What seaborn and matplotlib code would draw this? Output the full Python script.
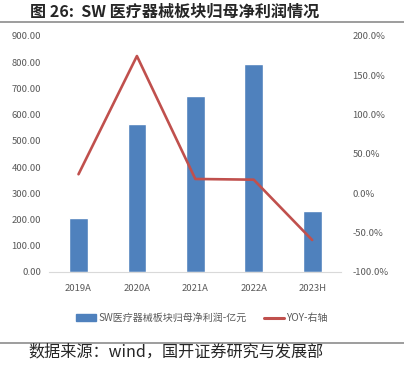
import pandas as pd
import matplotlib.pyplot as plt
import seaborn as sns
from matplotlib.lines import Line2D
from matplotlib.patches import Patch
from matplotlib.ticker import FuncFormatter

years = ['2019A', '2020A', '2021A', '2022A', '2023H']
profit = [207, 564, 671, 792, 234]
yoy = [0.242, 1.745, 0.182, 0.173, -0.594]

bar_label = 'SW医疗器械板块归母净利润-亿元'
line_label = 'YOY-右轴'
title = '图 26:  SW 医疗器械板块归母净利润情况'
source = '数据来源：wind，国开证券研究与发展部'

df = pd.DataFrame({'year': years, 'profit': profit, 'yoy': yoy})

sns.set_theme(style='white')
plt.rcParams['font.family'] = ['Noto Sans CJK SC', 'DejaVu Sans']

blue = '#4F81BD'
red = '#C0504D'
tick_gray = '#595959'

fig = plt.figure(figsize=(4.04, 3.67), dpi=100)
ax = fig.add_axes([0.122, 0.259, 0.723, 0.643])

sns.barplot(data=df, x='year', y='profit', color=blue, saturation=1, width=0.32, ax=ax)
ax.set_ylim(0, 900)
ax.set_yticks(range(0, 901, 100))
ax.yaxis.set_major_formatter(FuncFormatter(lambda v, p: f'{v:.2f}'))
ax.set_xlim(-0.5, 4.5)
ax.set_xlabel('')
ax.set_ylabel('')

ax2 = ax.twinx()
sns.lineplot(data=df, x='year', y='yoy', color=red, linewidth=1.9, sort=False, ax=ax2)
ax2.set_ylim(-1, 2)
ax2.set_yticks([-1, -0.5, 0, 0.5, 1, 1.5, 2])
ax2.yaxis.set_major_formatter(FuncFormatter(lambda v, p: f'{v * 100:.1f}%'))
ax2.set_xlim(-0.5, 4.5)
ax2.set_ylabel('')

for a in (ax, ax2):
    for s in a.spines.values():
        s.set_visible(False)
    a.tick_params(length=0, labelsize=6.8, labelcolor=tick_gray)
ax.spines['bottom'].set_visible(True)
ax.spines['bottom'].set_color('#D9D9D9')
ax.spines['bottom'].set_linewidth(0.8)
ax.tick_params(axis='y', pad=6)
ax.tick_params(axis='x', pad=9)
ax2.tick_params(axis='y', pad=8)

handles = [Patch(facecolor=blue, edgecolor=blue),
           Line2D([0], [0], color=red, linewidth=2.2)]
fig.legend(handles, [bar_label, line_label], loc='center', bbox_to_anchor=(0.5, 0.133),
           ncol=2, frameon=False, fontsize=7.2, handlelength=2.0, handleheight=0.6,
           columnspacing=1.8, handletextpad=0.2, labelcolor=tick_gray)

fig.text(0.074, 0.967, title, fontsize=11.6, fontweight='bold', va='center', ha='left')
fig.add_artist(Line2D([0, 1], [0.94, 0.94], color='#8C8C8C', linewidth=1.2, transform=fig.transFigure))
fig.add_artist(Line2D([0, 1], [0.065, 0.065], color='#8C8C8C', linewidth=1.2, transform=fig.transFigure))
fig.text(0.07, 0.04, source, fontsize=11.6, va='center', ha='left')

fig.savefig('out.png', dpi=100)
